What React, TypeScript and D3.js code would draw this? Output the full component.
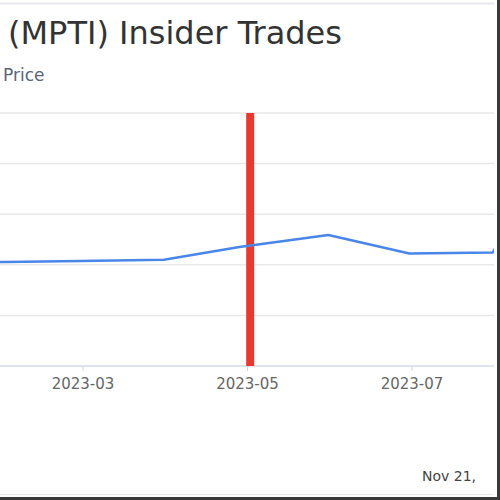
import * as d3 from "d3";

const priceDates = [
  "2022-12-30", "2023-01-31", "2023-02-28", "2023-03-31", "2023-04-28",
  "2023-05-31", "2023-06-30", "2023-07-31", "2023-08-04",
];
const priceValues = [4.1, 4.11, 4.15, 4.2, 4.7, 5.18, 4.45, 4.49, 5.3];
const tradeDates = ["2023-05-02"];
const tickDates = ["2023-03-01", "2023-05-01", "2023-07-01"];
const yTicks = [0, 2, 4, 6, 8, 10];

const parse = d3.utcParse("%Y-%m-%d");

export default function App() {
  const W = 500;
  const H = 500;
  const plotLeft = 0;
  const plotRight = 494;
  const plotTop = 113;
  const plotBottom = 366;

  // anchor the time scale on two tick dates, the rest extrapolates
  const x = d3
    .scaleUtc()
    .domain([parse("2023-03-01")!, parse("2023-07-01")!])
    .range([83, 412]);
  const y = d3.scaleLinear().domain([0, 10]).range([plotBottom, plotTop]);

  const points = priceDates.map((d, i) => ({ date: parse(d)!, value: priceValues[i] }));
  const line = d3
    .line<{ date: Date; value: number }>()
    .x((d) => x(d.date))
    .y((d) => y(d.value));

  return (
    <svg
      width={W}
      height={H}
      style={{ position: "absolute", left: 0, top: 0, background: "#fff" }}
      fontFamily="'DejaVu Sans', Verdana, sans-serif"
    >
      <defs>
        <clipPath id="plot">
          <rect x={plotLeft} y={plotTop - 10} width={plotRight - plotLeft} height={plotBottom - plotTop + 10} />
        </clipPath>
      </defs>
      {/* outer frame bits */}
      <line x1={0} x2={494} y1={3.5} y2={3.5} stroke="#e8e8ec" strokeWidth={2} />
      <line x1={0} x2={494} y1={494.5} y2={494.5} stroke="#ececec" strokeWidth={1} />
      <rect x={497} y={0} width={3} height={H} fill="#3a3a3a" />
      <rect x={0} y={497} width={W} height={3} fill="#3a3a3a" />

      <text x={8} y={44} fontSize={32} fill="#333333">
        (MPTI) Insider Trades
      </text>
      <text x={3} y={81} fontSize={17} fill="#5b6479">
        Price
      </text>

      {/* grid */}
      {yTicks.slice(1).map((t) => (
        <line key={t} x1={plotLeft} x2={plotRight} y1={y(t)} y2={y(t)} stroke="#e9e9e9" strokeWidth={1.5} />
      ))}
      <line x1={plotLeft} x2={plotRight} y1={plotBottom} y2={plotBottom} stroke="#d3dbe9" strokeWidth={1.5} />

      {/* x ticks */}
      {tickDates.map((d) => {
        const xd = x(parse(d)!);
        return (
          <g key={d}>
            <line x1={xd} x2={xd} y1={plotBottom} y2={plotBottom + 5} stroke="#ccd6eb" />
            <text x={xd} y={389} fontSize={15} fill="#666" textAnchor="middle">
              {d3.utcFormat("%Y-%m")(parse(d)!)}
            </text>
          </g>
        );
      })}

      <g clipPath="url(#plot)">
        {tradeDates.map((d) => (
          <rect
            key={d}
            x={x(parse(d)!) - 4}
            y={plotTop}
            width={8}
            height={plotBottom - plotTop}
            fill="#e8392e"
          />
        ))}
        <path d={line(points) ?? ""} fill="none" stroke="#4a86e8" strokeWidth={2.5} strokeLinejoin="round" />
      </g>

      <text x={476} y={481} fontSize={14} fill="#444" textAnchor="end">
        Nov 21,
      </text>
    </svg>
  );
}
